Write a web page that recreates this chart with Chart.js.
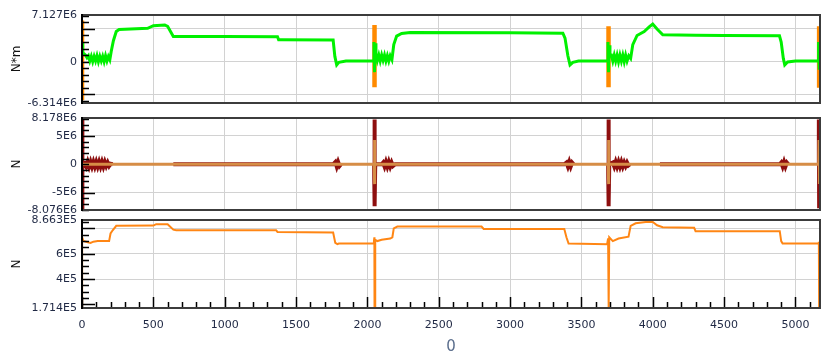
<!DOCTYPE html>
<html>
<head>
<meta charset="utf-8">
<script src="https://cdn.jsdelivr.net/npm/chart.js@4.4.1/dist/chart.umd.min.js"></script>
<style>
  body { margin: 0; background: #fff; }
  #wrap { position: relative; width: 821px; height: 357px; overflow: hidden; }
  canvas { position: absolute; left: 0; }
</style>
</head>
<body>
<div id="wrap">
  <canvas id="p1" width="821" height="112" style="top:3px"></canvas>
  <canvas id="p2" width="821" height="116" style="top:106px"></canvas>
  <canvas id="p3" width="821" height="150" style="top:208px"></canvas>
</div>
<script>
// shared x axis
const xMax = 5172;
const xTicks = [0, 500, 1000, 1500, 2000, 2500, 3000, 3500, 4000, 4500, 5000];
const xTitle = '0';

// panel 1 : N*m (values in 1E6)
const momentTicks = [-6.314, -5, 0, 5, 7.127];
const momentLabelled = [-6.314, 0, 7.127];
const moment = [
  [0,3.0],[5,1.3],[15,1.2],[25,1.0],[35,0.6],[45,0.9],[55,0.1],[65,0.8],[75,0.0],[85,0.8],
  [95,0.1],[105,0.9],[115,0.0],[125,0.8],[135,0.1],[145,0.8],[155,0.0],[165,0.9],[175,0.1],[185,0.8],
  [195,0.3],[205,1.6],[220,3.2],[240,4.6],[260,4.9],[300,4.95],[460,5.1],[500,5.5],[580,5.6],[600,5.4],
  [640,3.85],[1000,3.85],[1370,3.8],[1378,3.35],[1400,3.35],[1760,3.3],[1772,0.8],[1785,-0.5],[1800,-0.1],[1850,0.1],
  [2040,0.15],[2046,3.0],[2050,-1.6],[2054,2.8],[2060,1.2],[2070,0.2],[2080,1.0],[2090,0.1],[2100,1.0],[2110,0.2],
  [2120,1.0],[2130,0.1],[2140,0.9],[2150,0.1],[2160,0.9],[2172,0.3],[2185,2.6],[2205,3.9],[2240,4.3],[2300,4.45],
  [3000,4.4],[3370,4.35],[3385,3.6],[3405,0.9],[3420,-0.5],[3440,-0.1],[3480,0.1],[3682,0.15],[3686,3.0],[3690,-1.6],
  [3694,2.5],[3700,1.0],[3710,1.0],[3720,0.1],[3730,1.0],[3740,0.1],[3750,1.0],[3760,0.0],[3770,1.0],[3780,0.1],
  [3790,1.0],[3800,0.0],[3810,1.0],[3820,0.1],[3832,0.9],[3845,0.5],[3860,2.6],[3890,4.0],[3940,4.6],[3975,5.3],
  [4000,5.75],[4030,5.0],[4070,4.1],[4300,4.05],[4500,4.0],[4888,3.95],[4900,3.0],[4915,0.5],[4925,-0.5],[4945,-0.05],
  [5000,0.1],[5158,0.15],[5162,3.0],[5166,-1.0],[5170,1.5],[5172,1.0]
];
const momentSpikes = [
  [0,6.3],[0,-5.9],[0,null],
  [2050,5.6],[2050,-3.9],[2050,null],
  [3690,5.4],[3690,-3.9],[3690,null],
  [5166,5.4],[5166,-4.0]
];

// panel 2 : N (values in 1E6)
const forceTicks = [-8.076, -5, 0, 5, 8.178];
const forceLabelled = [-8.076, -5, 0, 5, 8.178];
const forceMean = [
  [0,0],[2047,0],[2049,4.3],[2051,-3.5],[2053,0],[3687,0],[3689,4.3],[3691,-3.5],[3693,0],
  [5163,0],[5165,4.3],[5167,-3.5],[5169,0],[5172,0]
];
const forceRaw = [
  [0,8.1],[0,-8.0],[5,0],[20,0.2],[30,-0.4],[40,0.4],[50,-0.4],[60,0.4],[70,-0.4],[80,0.4],
  [90,-0.4],[100,0.4],[110,-0.4],[120,0.4],[130,-0.4],[140,0.4],[150,-0.4],[160,0.4],[170,-0.3],[180,0.3],
  [190,-0.3],[200,0.1],[215,0],[220,null],
  [640,0],[1760,0],[1775,0.4],[1785,-0.4],[1795,0.4],[1805,-0.3],[1815,0],[1830,null],
  [2047,0],[2048,7.9],[2050,-7.4],[2052,7.6],[2053,-7.0],[2055,0],[2100,0],[2110,0.3],[2120,-0.4],[2130,0.4],
  [2140,-0.4],[2150,0.4],[2160,-0.4],[2170,0.3],[2180,-0.3],[2195,0],[3380,0],[3395,0.3],[3405,-0.4],[3415,0.4],
  [3425,-0.4],[3435,0.3],[3445,0],[3460,null],
  [3687,0],[3688,7.9],[3690,-7.4],[3692,7.6],[3693,-7.0],[3695,0],[3720,0.3],[3730,-0.4],[3740,0.4],[3750,-0.4],
  [3760,0.4],[3770,-0.4],[3780,0.4],[3790,-0.4],[3800,0.3],[3810,-0.3],[3820,0.3],[3830,-0.2],[3840,0],[3850,null],
  [4050,0],[4890,0],[4900,0.3],[4910,-0.4],[4920,0.4],[4930,-0.4],[4940,0.3],[4950,0],[4960,null],
  [5163,0],[5164,7.9],[5166,-7.4],[5168,7.6],[5170,-7.0],[5172,0]
];

// panel 3 : N (values in 1E5)
const axialTicks = [1.714, 4, 6, 8, 8.663];
const axialLabelled = [1.714, 4, 6, 8.663];
const axial = [
  [0,1.714],[1,7.3],[10,7.0],[40,6.9],[60,6.85],[80,6.95],[110,7.0],[190,7.0],[200,7.6],[215,7.85],
  [240,8.2],[500,8.22],[520,8.33],[600,8.33],[640,7.9],[660,7.86],[1360,7.86],[1370,7.72],[1760,7.68],[1775,6.85],
  [1790,6.75],[1800,6.8],[2040,6.8],[2046,7.0],[2049,7.3],[2050,1.714],[2054,1.714],[2055,7.1],[2070,7.0],[2100,7.1],
  [2160,7.2],[2175,7.3],[2185,8.0],[2210,8.14],[2800,8.14],[2815,7.95],[3380,7.95],[3395,7.3],[3410,6.8],[3680,6.75],
  [3687,7.2],[3689,1.714],[3693,1.714],[3695,7.3],[3720,7.0],[3760,7.2],[3830,7.35],[3845,8.2],[3880,8.4],[3950,8.5],
  [4000,8.5],[4030,8.25],[4070,8.1],[4290,8.05],[4300,7.78],[4890,7.78],[4900,7.0],[4910,6.8],[5160,6.8],[5164,6.95],
  [5166,1.714],[5172,1.714]
];

const labelColor = '#1f2844';
const gridColor = '#d2d2d2';
const font = 'DejaVu Sans';

function toPoints(pairs, unit) {
  return pairs.map(p => ({ x: p[0], y: p[1] === null ? null : p[1] * unit }));
}

function fmt(v) {
  v = Math.round(v);
  if (v === 0) return '0';
  return v.toExponential().replace('e+', 'E');
}

// box round the plot + ticks drawn inward
const frame = {
  id: 'frame',
  afterDraw(chart, args, o) {
    const { ctx, chartArea: a, scales } = chart;
    const y = scales.y, x = scales.x;
    ctx.save();
    ctx.strokeStyle = '#000';
    ctx.lineWidth = 1.5;
    ctx.beginPath();
    for (let i = Math.ceil(y.min / o.yMinor); i * o.yMinor <= y.max; i++) {
      const py = Math.round(y.getPixelForValue(i * o.yMinor)) + 0.5;
      ctx.moveTo(a.left, py); ctx.lineTo(a.left + 7, py);
    }
    o.yMajor.forEach(v => {
      const py = Math.round(y.getPixelForValue(v)) + 0.5;
      ctx.moveTo(a.left, py); ctx.lineTo(a.left + 13, py);
    });
    if (o.xTicks) {
      for (let i = 0; i * 100 <= x.max; i++) {
        const px = Math.round(x.getPixelForValue(i * 100)) + 0.5;
        ctx.moveTo(px, a.bottom); ctx.lineTo(px, a.bottom - (i % 5 === 0 ? 11 : 6));
      }
    }
    ctx.stroke();
    ctx.strokeStyle = '#3c3c3c';
    ctx.lineWidth = 2;
    ctx.strokeRect(a.left, a.top, a.right - a.left, a.bottom - a.top);
    ctx.strokeStyle = '#000';
    ctx.beginPath();
    ctx.moveTo(a.left, a.top - 1); ctx.lineTo(a.left, a.bottom + 1);
    ctx.stroke();
    ctx.restore();
  }
};

function xScale(show) {
  return {
    type: 'linear', min: 0, max: xMax,
    afterBuildTicks: s => { s.ticks = xTicks.map(v => ({ value: v })); },
    afterFit: s => { s.height = show ? 50 : 0; },
    border: { display: false },
    grid: { color: gridColor, drawTicks: false },
    ticks: { display: show, autoSkip: false, maxRotation: 0, padding: 11, color: labelColor,
             font: { family: font, size: 11 }, callback: v => String(v) },
    title: { display: show, text: xTitle, color: '#5a6d8c', font: { family: font, size: 15 },
             padding: { top: 0, bottom: 2 } }
  };
}

function yScale(min, max, unit, ticks, labelled, title) {
  return {
    type: 'linear', min: min * unit, max: max * unit,
    afterBuildTicks: s => { s.ticks = ticks.map(v => ({ value: v * unit })); },
    afterFit: s => { s.width = 82; },
    border: { display: false },
    grid: { color: gridColor, drawTicks: false },
    ticks: { autoSkip: false, padding: 5, color: labelColor, font: { family: font, size: 11 },
             callback: v => labelled.some(l => Math.abs(l * unit - v) < unit * 1e-6) ? fmt(v) : '' },
    title: { display: true, text: title, color: '#111', font: { family: font, size: 12 },
             padding: { top: 10, bottom: 0 } }
  };
}

function line(data, color, width) {
  return { data, borderColor: color, borderWidth: width, pointRadius: 0, tension: 0,
           spanGaps: false, fill: false };
}

function panel(id, datasets, y, pad, showX, frameOpts) {
  new Chart(document.getElementById(id), {
    type: 'line',
    data: { datasets },
    options: {
      responsive: false,
      animation: false,
      layout: { padding: { left: 0, right: 1, top: pad[0], bottom: pad[1] } },
      plugins: { legend: { display: false }, tooltip: { enabled: false }, frame: frameOpts },
      scales: { x: xScale(showX), y }
    },
    plugins: [frame]
  });
}

panel('p1', [
  line(toPoints(moment, 1e6), '#00f000', 3),
  line(toPoints(momentSpikes, 1e6), '#ff8a00', 4.5)
], yScale(-6.314, 7.127, 1e6, momentTicks, momentLabelled, 'N*m'), [12, 12], false,
  { yMinor: 1e6, yMajor: [-5e6, 5e6] });

panel('p2', [
  line(toPoints(forceMean, 1e6), '#d68d46', 3),
  line(toPoints(forceRaw, 1e6), '#8e0f0f', 4)
], yScale(-8.076, 8.178, 1e6, forceTicks, forceLabelled, 'N'), [12, 12], false,
  { yMinor: 1e6, yMajor: [-5e6, 5e6] });

panel('p3', [
  line(toPoints(axial, 1e5), '#ff8614', 2)
], yScale(1.714, 8.663, 1e5, axialTicks, axialLabelled, 'N'), [12, 0], true,
  { yMinor: 0.5e5, yMajor: [2e5, 4e5, 6e5, 8e5], xTicks: true });
</script>
</body>
</html>
